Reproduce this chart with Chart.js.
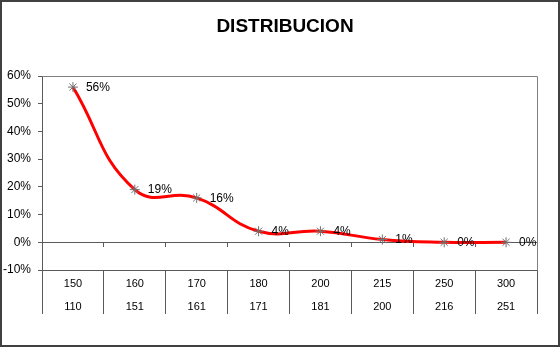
<!DOCTYPE html>
<html>
<head>
<meta charset="utf-8">
<script src="https://cdn.jsdelivr.net/npm/chart.js@4/dist/chart.umd.min.js"></script>
<style>
  html, body { margin: 0; padding: 0; background: #fff; }
  #wrap { width: 556px; height: 343px; border: 2px solid #404040; }
  canvas { display: block; }
</style>
</head>
<body>
<div id="wrap"><canvas id="c" width="556" height="343"></canvas></div>
<script>
// ---- data ----
const rangeTop = ['150', '160', '170', '180', '200', '215', '250', '300'];
const rangeBottom = ['110', '151', '161', '171', '181', '200', '216', '251'];
const distribution = [56, 19, 16, 4, 4, 1, 0, 0];
const yMin = -10;
const yMax = 60;
const yStep = 10;
const chartTitle = 'DISTRIBUCION';

const FONT = "'Liberation Sans', Arial, sans-serif";
const AXIS = '#5a5a5a';

const labels = rangeTop.map((t, i) => [t, rangeBottom[i]]);

const frame = {
  id: 'frame',
  beforeDatasetsDraw(chart) {
    const a = chart.chartArea, ctx = chart.ctx;
    ctx.save();
    ctx.strokeStyle = '#808080';
    ctx.lineWidth = 1;
    ctx.beginPath();
    ctx.moveTo(Math.round(a.left) + 0.5, Math.round(a.top) + 0.5);
    ctx.lineTo(Math.round(a.right) + 0.5, Math.round(a.top) + 0.5);
    ctx.lineTo(Math.round(a.right) + 0.5, Math.round(a.bottom) + 0.5);
    ctx.stroke();
    ctx.restore();
  }
};

const titleText = {
  id: 'titleText',
  afterDraw(chart) {
    const ctx = chart.ctx;
    ctx.save();
    ctx.font = 'bold 19px ' + FONT;
    ctx.fillStyle = '#000';
    ctx.textAlign = 'center';
    ctx.textBaseline = 'middle';
    ctx.fillText(chartTitle, 283, 24.5);
    ctx.restore();
  }
};

const valueLabels = {
  id: 'valueLabels',
  afterDatasetsDraw(chart) {
    const ctx = chart.ctx;
    const meta = chart.getDatasetMeta(0);
    ctx.save();
    ctx.font = '12px ' + FONT;
    ctx.fillStyle = '#000';
    ctx.textAlign = 'left';
    ctx.textBaseline = 'middle';
    meta.data.forEach((pt, i) => {
      ctx.fillText(distribution[i] + '%', pt.x + 13, pt.y + 0.5);
    });
    ctx.restore();
  }
};

new Chart(document.getElementById('c'), {
  type: 'line',
  data: {
    labels: labels,
    datasets: [{
      data: distribution,
      xAxisID: 'x',
      yAxisID: 'y',
      borderColor: '#ff0000',
      borderWidth: 3,
      tension: 0.45,
      fill: false,
      pointStyle: 'star',
      pointRadius: 5,
      pointBorderColor: '#707070',
      pointBackgroundColor: '#000',
      pointBorderWidth: 1
    }]
  },
  options: {
    responsive: false,
    animation: false,
    devicePixelRatio: 1,
    layout: { padding: { left: 0, right: 21, top: 74, bottom: 27 } },
    plugins: {
      legend: { display: false },
      tooltip: { enabled: false },
      title: { display: false }
    },
    scales: {
      y: {
        min: yMin, max: yMax,
        afterFit(s) { s.width = 40; },
        ticks: {
          stepSize: yStep,
          color: '#000',
          font: { family: FONT, size: 12 },
          padding: 7,
          callback: v => v + '%'
        },
        grid: { drawOnChartArea: false, drawTicks: true, tickLength: 4, color: AXIS },
        border: { display: true, color: AXIS, width: 1 }
      },
      x: {
        type: 'category',
        position: 'bottom',
        offset: true,
        afterFit(s) { s.height = 48; },
        ticks: {
          color: '#000',
          font: { family: FONT, size: 11, lineHeight: '23px' },
          padding: -41.5,
          maxRotation: 0,
          autoSkip: false
        },
        grid: { offset: true, drawOnChartArea: false, drawTicks: true, tickLength: 44, color: AXIS },
        border: { display: true, color: AXIS, width: 1 }
      },
      x0: {
        type: 'category',
        position: { y: 0 },
        offset: true,
        ticks: { display: false },
        grid: { offset: true, drawOnChartArea: false, drawTicks: true, tickLength: 4, color: AXIS },
        border: { display: true, color: AXIS, width: 1 }
      }
    }
  },
  plugins: [frame, valueLabels, titleText]
});
</script>
</body>
</html>
